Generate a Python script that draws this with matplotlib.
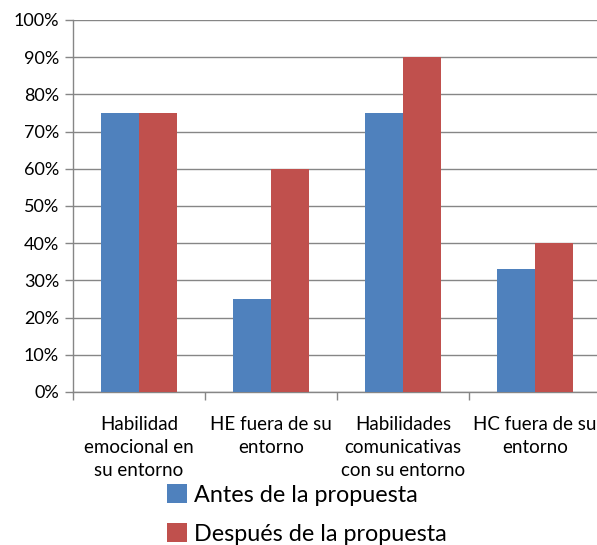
import numpy as np
import matplotlib.pyplot as plt
from matplotlib.ticker import FuncFormatter

plt.rcParams['font.family'] = ['Lato', 'DejaVu Sans']

categories = ['Habilidad\nemocional en\nsu entorno',
              'HE fuera de su\nentorno',
              'Habilidades\ncomunicativas\ncon su entorno',
              'HC fuera de su\nentorno']
antes = [0.75, 0.25, 0.75, 0.33]
despues = [0.75, 0.60, 0.90, 0.40]
series_names = ['Antes de la propuesta', 'Después de la propuesta']

BLUE = '#4F81BD'
RED = '#C0504D'
GRID = '#868686'

fig = plt.figure(figsize=(5.97, 5.45), dpi=100)
ax = fig.add_axes([73 / 597, 1 - 392 / 545, 528 / 597, 372 / 545])

x = np.arange(len(categories))
w = 1 / 3.5
b1 = ax.bar(x - w / 2, antes, w, color=BLUE, label=series_names[0], zorder=3)
b2 = ax.bar(x + w / 2, despues, w, color=RED, label=series_names[1], zorder=3)

ax.set_xlim(-0.5, len(categories) - 0.5)
ax.set_ylim(0, 1)
ax.set_yticks(np.arange(0, 1.01, 0.1))
ax.yaxis.set_major_formatter(FuncFormatter(lambda v, p: f'{v * 100:.0f}%'))
ax.yaxis.grid(True, color=GRID, linewidth=1, zorder=0)

ax.set_xticks(x)
ax.set_xticklabels(categories, fontsize=13.5, linespacing=1.45)
ax.set_xticks(np.arange(-0.5, len(categories), 1), minor=True)
ax.tick_params(axis='x', which='major', length=0, pad=17)
ax.tick_params(axis='x', which='minor', length=6, color=GRID, width=1)
ax.tick_params(axis='y', length=6, color=GRID, width=1, labelsize=13, pad=4)

for side in ('top', 'right'):
    ax.spines[side].set_visible(False)
for side in ('left', 'bottom'):
    ax.spines[side].set_color(GRID)
    ax.spines[side].set_linewidth(1)

fig.legend(handles=[b1, b2], loc='upper left', bbox_to_anchor=(158 / 597, 1 - 475 / 545),
           frameon=False, fontsize=16.8, handlelength=0.85, handleheight=0.85,
           handletextpad=0.3, labelspacing=0.75, borderaxespad=0)

fig.savefig('out.png', dpi=100)
